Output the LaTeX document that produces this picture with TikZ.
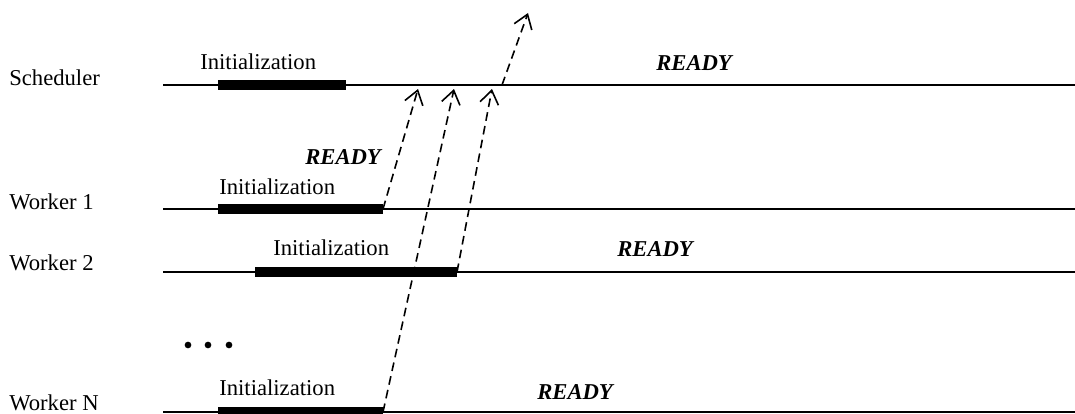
\documentclass[tikz,border=0pt]{standalone}
\usepackage{fontspec}
\setmainfont{Liberation Serif}
\usetikzlibrary{arrows.meta}
\begin{document}
\begin{tikzpicture}[x=0.75pt,y=-0.75pt,
  lbl/.style={anchor=west,inner sep=0pt,font=\fontsize{17}{20}\selectfont},
  ready/.style={anchor=west,inner sep=0pt,font=\fontsize{17}{20}\selectfont\bfseries\itshape},
  timeline/.style={line width=1.2pt},
  busy/.style={line width=7.8pt},
  msg/.style={line width=1.2pt,dash pattern=on 6.5pt off 4pt,
    -{Straight Barb[length=10pt,width=14pt,line width=1.2pt]}}]
\useasboundingbox (0,0) rectangle (1075,414);

% participant names
\node[lbl] (sched) at (9,78) {Scheduler};
\node[lbl] (w1) at (9,202) {Worker 1};
\node[lbl] (w2) at (9,263) {Worker 2};
\node[lbl] (wn) at (9,403) {Worker N};

% timeline end points
\coordinate (s0) at (163,85);  \coordinate (s1) at (1075,85);
\coordinate (a0) at (163,209); \coordinate (a1) at (1075,209);
\coordinate (b0) at (163,272); \coordinate (b1) at (1075,272);
\coordinate (n0) at (163,412); \coordinate (n1) at (1075,412);

\draw[timeline] (s0) -- (s1);
\draw[timeline] (a0) -- (a1);
\draw[timeline] (b0) -- (b1);
\draw[timeline] (n0) -- (n1);

% initialization phases
\coordinate (sb0) at (218,85);  \coordinate (sb1) at (346,85);
\coordinate (ab0) at (218,209); \coordinate (ab1) at (383,209);
\coordinate (bb0) at (255,272); \coordinate (bb1) at (457,272);
\coordinate (nb0) at (218,412); \coordinate (nb1) at (383,412);

\draw[busy] (sb0) -- (sb1);
\draw[busy] (ab0) -- (ab1);
\draw[busy] (bb0) -- (bb1);
\draw[busy] (nb0) -- (nb1);

\node[lbl] (si) at (200,62)  {Initialization};
\node[lbl] (ai) at (219,187) {Initialization};
\node[lbl] (bi) at (273,248) {Initialization};
\node[lbl] (ni) at (219,388) {Initialization};

% ready states
\node[ready] (sr) at (656,63)  {READY};
\node[ready] (ar) at (305,157) {READY};
\node[ready] (br) at (617,249) {READY};
\node[ready] (nr) at (537,392) {READY};

% elided workers
\fill (188,345) circle[radius=2.5pt];
\fill (208,345) circle[radius=2.5pt];
\fill (229,345) circle[radius=2.5pt];

% ready messages
\coordinate (ta) at (418,89);
\coordinate (tn) at (454,89);
\coordinate (tb) at (492,89);
\coordinate (so) at (502,85);
\coordinate (st) at (528,13);

\draw[msg] (ab1) -- (ta);
\draw[msg] (nb1) -- (tn);
\draw[msg] (bb1) -- (tb);
\draw[msg] (so) -- (st);
\end{tikzpicture}
\end{document}
